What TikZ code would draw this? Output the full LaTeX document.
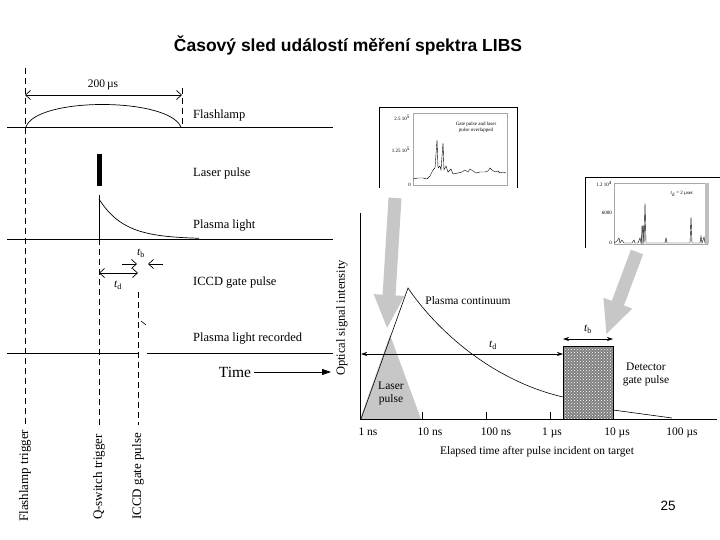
\documentclass[tikz,border=0pt]{standalone}
\usepackage{fontspec}
\setmainfont{Liberation Serif}
\newfontfamily\headfont{Liberation Sans}
\usetikzlibrary{arrows.meta,patterns,positioning}

\begin{document}
\begin{tikzpicture}[x=1pt,y=-1pt,
    lbl/.style={anchor=west, inner sep=0pt, font=\fontsize{12.5}{14}\selectfont},
    trig/.style={rotate=90, anchor=west, inner sep=0pt, font=\fontsize{13}{15}\selectfont},
    axlbl/.style={inner sep=0pt, font=\fontsize{11.5}{13}\selectfont},
    ticklbl/.style={axlbl, anchor=base},
    tinylbl/.style={inner sep=0pt, font=\fontsize{5}{6}\selectfont},
    guide/.style={dash pattern=on 6pt off 4pt, line width=0.8pt},
    dim/.style={{Straight Barb[length=5pt,width=9pt]}-{Straight Barb[length=5pt,width=9pt]}, line width=0.7pt},
    bigarrow/.style={draw=black!22, line width=13pt, -{Triangle[length=34pt,width=28pt]}},
    spec/.style={line width=0.4pt}
]
    \useasboundingbox (0,0) rectangle (720,540);

    \node[font=\headfont\bfseries\fontsize{17.5}{20}\selectfont] (title) at (348,45) {Časový sled událostí měření spektra LIBS};

    % timing chart
    \draw[line width=0.8pt] (7,127) -- (333,127);
    \draw[line width=0.8pt] (7,239) -- (333,239);
    \draw[line width=0.8pt] (7,353) -- (138,353) (147,353) -- (333,353);

    \draw[guide] (25,68) -- (25,425);
    \draw[guide] (182,88) -- (182,127);
    \draw[guide] (99,239) -- (99,425);
    \draw[guide] (138,292) -- (138,425);

    \coordinate (fa) at (25,95);
    \coordinate (fb) at (182,95);
    \draw[dim] (fa) -- (fb);
    \node[axlbl] (span) at (103,85) {200\,µs};
    \draw[line width=0.7pt] (26,127) .. controls (36,97) and (168,97) .. (181,127);

    \fill (97,154) rectangle (102,186);
    \draw[line width=0.7pt] (99,239) -- (99,195);
    \draw[line width=0.7pt] plot[domain=0:100,samples=50] ({99+\x},{239-40*exp(-\x/25)});

    \coordinate (tbl) at (122,264);
    \coordinate (tbr) at (163,264);
    \draw[line width=0.7pt,-{Straight Barb[length=5pt,width=9pt]}] (tbl) -- (137,264);
    \draw[line width=0.7pt,-{Straight Barb[length=5pt,width=9pt]}] (tbr) -- (148,264);
    \node[axlbl] (tbleft) at (141,253) {\textit{t}\textsubscript{b}};
    \coordinate (tda) at (99,273);
    \coordinate (tdb) at (138,273);
    \draw[dim] (tda) -- (tdb);
    \node[axlbl] (tdleft) at (118,285) {\textit{t}\textsubscript{d}};
    \draw[line width=0.6pt] (141,321) -- (146,325);

    \node[lbl] (flash) at (193,115) {Flashlamp};
    \node[lbl] (laser) at (193,173) {Laser pulse};
    \node[lbl] (plasma) at (193,226) {Plasma light};
    \node[lbl] (iccd) at (193,283) {ICCD gate pulse};
    \node[lbl] (recorded) at (193,339) {Plasma light recorded};
    \node[font=\fontsize{15.5}{17}\selectfont, inner sep=3pt] (time) at (235,372) {Time};
    \coordinate (timeend) at (331,372);
    \draw[line width=0.8pt, -{Triangle[length=9pt,width=6pt]}] (time) -- (timeend);

    \node[trig] (flashtrig) at (25,522) {Flashlamp trigger};
    \node[trig] (qtrig) at (99,520) {Q-switch trigger};
    \node[trig] (iccdtrig) at (138,520) {ICCD gate pulse};

    % LIBS plot
    \fill[black!22] (360,419) -- (390,335) -- (421,419) -- cycle;
    \draw[line width=0.7pt] (360,213) -- (360,419) -- (717,419);
    \foreach \tx in {422,486,550,613} {
        \draw[line width=0.6pt] (\tx,419) -- (\tx,412);
    }
    \node[ticklbl] (t1) at (368,435) {1 ns};
    \node[ticklbl] (t2) at (430,435) {10 ns};
    \node[ticklbl] (t3) at (496,435) {100 ns};
    \node[ticklbl] (t4) at (552,435) {1 µs};
    \node[ticklbl] (t5) at (617,435) {10 µs};
    \node[ticklbl] (t6) at (682,435) {100 µs};
    \node[axlbl] (xlab) at (537,452) {Elapsed time after pulse incident on target};
    \node[axlbl, rotate=90, font=\fontsize{12.5}{14}\selectfont] (ylab) at (342,318) {Optical signal intensity};

    \fill[black!50] (563,346) rectangle (613,419);
    \fill[pattern=crosshatch dots, pattern color=white] (563,346) rectangle (613,419);
    \draw[line width=0.6pt] (563,346) rectangle (613,419);

    \draw[line width=0.6pt] (361,419) -- (408,288) .. controls (435,328) and (490,380) .. (563,397);
    \draw[line width=0.6pt] (613,410) -- (672,418);

    \coordinate (tdr) at (563,354);
    \coordinate (tdl) at (361,354);
    \draw[line width=0.6pt, {Stealth[length=6pt,width=4pt]}-{Stealth[length=6pt,width=4pt]}] (tdl) -- (tdr);
    \node[axlbl] (tdplot) at (493,345) {\textit{t}\textsubscript{d}};
    \coordinate (tbp1) at (563,339);
    \coordinate (tbp2) at (613,339);
    \draw[line width=0.6pt, {Stealth[length=6pt,width=4pt]}-{Stealth[length=6pt,width=4pt]}] (tbp1) -- (tbp2);
    \node[axlbl] (tbplot) at (588,329) {\textit{t}\textsubscript{b}};

    \node[axlbl, align=center] (cont) at (468,301) {Plasma continuum};
    \node[axlbl, align=center] (lp) at (391,393) {Laser\\pulse};
    \node[axlbl, align=center] (gate) at (646,374) {Detector\\gate pulse};

    \draw[bigarrow] (395,198) -- (387,329);
    \draw[bigarrow] (637,252) -- (606,335);

    % spectrum insets
    \draw[line width=0.8pt] (379,188) -- (379,107) -- (517,107) -- (517,188);
    \draw[black!35, line width=0.4pt] (413,113) rectangle (507,185);
    \node[tinylbl, anchor=east] (s1a) at (410,118) {2.5 10\textsuperscript{5}};
    \node[tinylbl, anchor=east] (s1b) at (410,150) {1.25 10\textsuperscript{5}};
    \node[tinylbl, anchor=east] (s1c) at (411,185) {0};
    \node[tinylbl, align=center] (s1t) at (476,127) {Gate pulse and laser\\pulse overlapped};
    \draw[spec] plot coordinates {(413,179) (418,178) (423,178) (427,179) (430,176) (433,170) (435,168) (437,140) (438,168) (440,166) (441,170) (443,143) (444,170) (446,166) (448,172) (451,169) (453,174) (458,173) (462,172) (465,170) (468,172) (470,169) (473,171) (476,173) (480,172) (485,172) (488,171) (490,168) (492,170) (495,172) (498,171) (500,173) (503,172) (506,173)};

    \draw[line width=0.8pt] (585,248) -- (585,177) -- (720,177);
    \draw[black!35, line width=0.4pt] (614,183) rectangle (707,244);
    \fill[black!25] (705,183) rectangle (709,244);
    \node[tinylbl, anchor=east] (s2a) at (612,184) {1.2 10\textsuperscript{4}};
    \node[tinylbl, anchor=east] (s2b) at (612,213) {6000};
    \node[tinylbl, anchor=east] (s2c) at (612,243) {0};
    \node[tinylbl] (s2t) at (682,194) {\textit{t}\textsubscript{d} = 2 µsec};
    \fill[black!30] (641,226) rectangle (644,244);
    \draw[spec] plot coordinates {(614,243) (617,241) (619,238) (620,243) (622,240) (624,243) (632,243) (634,240) (635,243) (638,243) (640,238) (641,243) (643,225) (644,243) (645,203) (646,243) (665,243) (666,238) (667,243) (690,243) (691,217) (692,243) (700,243) (701,236) (702,243) (704,237) (705,243)};

    \node[font=\headfont\fontsize{13.5}{15}\selectfont] (page) at (668,506) {25};
\end{tikzpicture}
\end{document}
